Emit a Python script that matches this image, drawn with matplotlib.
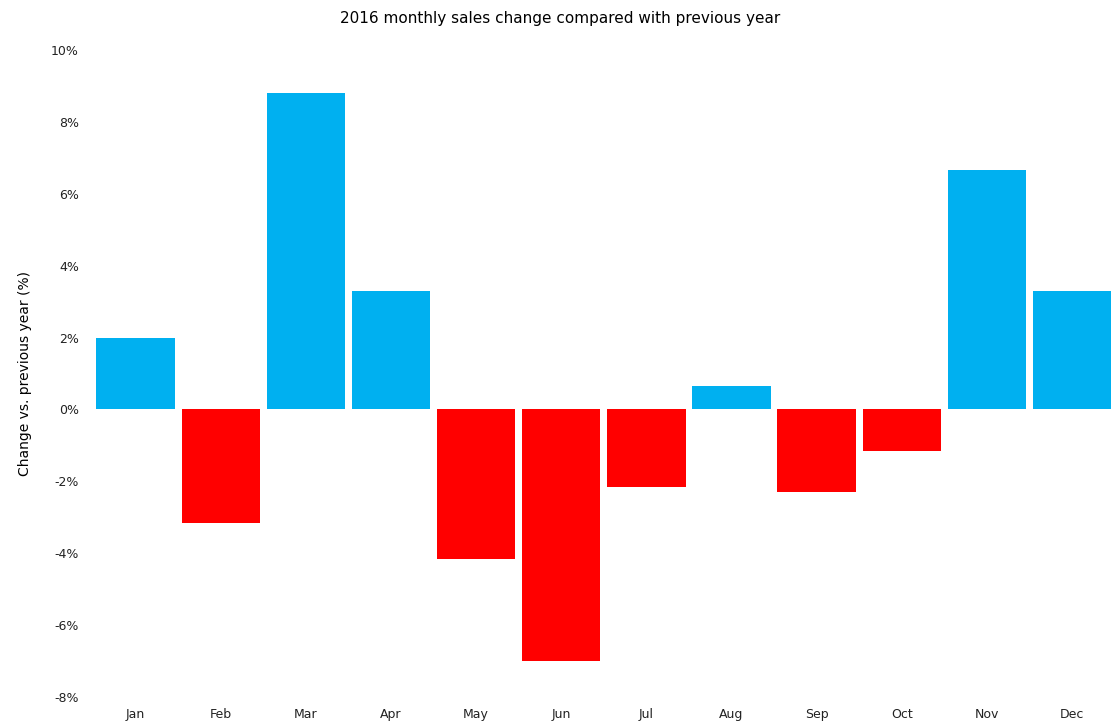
import matplotlib
matplotlib.use("Agg")
import matplotlib.pyplot as plt

# data
months = ['Jan', 'Feb', 'Mar', 'Apr', 'May', 'Jun',
          'Jul', 'Aug', 'Sep', 'Oct', 'Nov', 'Dec']
change_pct = [2.0, -3.15, 8.8, 3.3, -4.15, -7.0,
              -2.15, 0.65, -2.3, -1.15, 6.65, 3.3]
yticks = [-8, -6, -4, -2, 0, 2, 4, 6, 8, 10]
ytick_labels = ['-8%', '-6%', '-4%', '-2%', '0%', '2%', '4%', '6%', '8%', '10%']

colors = ['#00B0F0' if v >= 0 else '#FF0000' for v in change_pct]

fig = plt.figure(figsize=(11.12, 7.25), dpi=100)
ax = fig.add_axes([0.086, 0.0386, 0.914, 0.8925])

x = range(len(months))
ax.bar(x, change_pct, width=0.92, color=colors)

ax.set_xlim(-0.47, 11.47)
ax.set_ylim(-8, 10)
ax.set_yticks(yticks)
ax.set_yticklabels(ytick_labels)
ax.set_xticks(list(x))
ax.set_xticklabels(months)

for s in ax.spines.values():
    s.set_visible(False)
ax.tick_params(axis='both', length=0, labelsize=9, colors='#222222')
ax.tick_params(axis='y', pad=12)
ax.tick_params(axis='x', pad=8)

ax.set_ylabel('Change vs. previous year (%)', fontsize=10, labelpad=14)
fig.text(0.504, 0.975, '2016 monthly sales change compared with previous year',
         ha='center', va='center', fontsize=11)

fig.savefig('out.png', dpi=100)
